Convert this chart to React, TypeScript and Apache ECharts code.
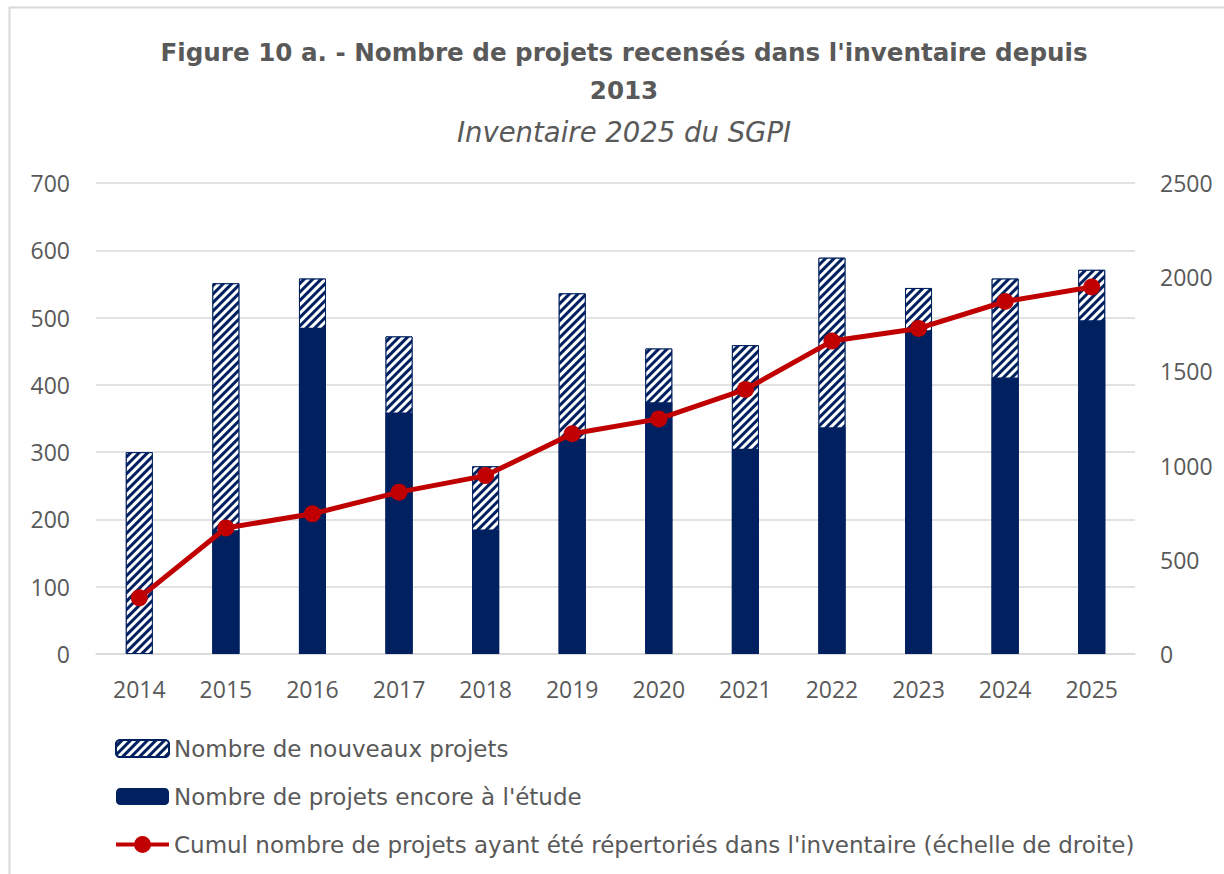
import React, { useEffect, useRef } from "react";
import * as echarts from "echarts";

const years = ["2014", "2015", "2016", "2017", "2018", "2019", "2020", "2021", "2022", "2023", "2024", "2025"];
const nouveauxProjets = [300, 551, 558, 472, 279, 536, 454, 459, 589, 544, 558, 571];
const encoreEtude = [0, 184, 485, 359, 185, 320, 374, 305, 337, 481, 411, 496];
const cumul = [298, 669, 744, 859, 947, 1169, 1248, 1404, 1661, 1728, 1871, 1948];

const NAVY = "#002060";
const RED = "#C00000";
const GRAY = "#595959";
const FONT = "'Open Sans', sans-serif";
const FONT2 = "'DejaVu Sans', sans-serif";

const LINE_ICON =
  "path://M0,6.5 L18.4,6.5 L18.4,10.5 L0,10.5 Z M34.6,6.5 L53,6.5 L53,10.5 L34.6,10.5 Z M18,8.5 A8.5,8.5 0 1,1 35,8.5 A8.5,8.5 0 1,1 18,8.5 Z";

export default function App() {
  const ref = useRef<HTMLDivElement>(null);
  useEffect(() => {
    const chart = echarts.init(ref.current!, null, { renderer: "svg" });
    chart.setOption({
      animation: false,
      backgroundColor: "#fff",
      textStyle: { fontFamily: FONT },
      graphic: [
        {
          type: "rect",
          shape: { x: 9.5, y: 7.5, width: 1300, height: 1000 },
          style: { fill: "none", stroke: "#d9d9d9", lineWidth: 2 },
          silent: true,
        },
        {
          type: "text",
          x: 624,
          y: 52,
          style: {
            text: "Figure 10 a. - Nombre de projets recensés dans l'inventaire depuis",
            font: `bold 24.6px ${FONT2}`,
            fill: GRAY,
            align: "center",
            verticalAlign: "middle",
          },
        },
        {
          type: "text",
          x: 624,
          y: 90,
          style: { text: "2013", font: `bold 24.6px ${FONT2}`, fill: GRAY, align: "center", verticalAlign: "middle" },
        },
        {
          type: "text",
          x: 624,
          y: 132,
          style: {
            text: "Inventaire 2025 du SGPI",
            font: `oblique 27.5px ${FONT2}`,
            fill: GRAY,
            align: "center",
            verticalAlign: "middle",
          },
        },
      ],
      grid: { left: 96, right: 89, top: 183, bottom: 220, containLabel: false },
      legend: {
        orient: "vertical",
        left: 115,
        top: 737,
        padding: 0,
        itemWidth: 53,
        itemHeight: 17,
        itemGap: 25,
        textStyle: { fontSize: 23, color: GRAY, fontFamily: FONT2 },
        data: [
          { name: "Nombre de nouveaux projets" },
          { name: "Nombre de projets encore à l'étude" },
          {
            name: "Cumul nombre de projets ayant été répertoriés dans l'inventaire (échelle de droite)",
            icon: LINE_ICON,
            itemStyle: { color: RED },
          },
        ],
      },
      xAxis: {
        type: "category",
        data: years,
        axisLine: { show: true, lineStyle: { color: "#d9d9d9", width: 1.5 } },
        axisTick: { show: false },
        axisLabel: { fontSize: 23, color: GRAY, margin: 23, fontFamily: FONT },
      },
      yAxis: [
        {
          type: "value",
          min: 0,
          max: 700,
          interval: 100,
          axisLine: { show: false },
          axisTick: { show: false },
          axisLabel: { fontSize: 23, color: GRAY, margin: 26, fontFamily: FONT },
          splitLine: { lineStyle: { color: "#d9d9d9", width: 1.5 } },
        },
        {
          type: "value",
          min: 0,
          max: 2500,
          interval: 500,
          axisLine: { show: false },
          axisTick: { show: false },
          axisLabel: {
            fontSize: 23,
            color: GRAY,
            margin: 25,
            fontFamily: FONT,
            formatter: (v: number) => String(v),
          },
          splitLine: { show: false },
        },
      ],
      series: [
        {
          name: "Nombre de nouveaux projets",
          type: "bar",
          data: nouveauxProjets,
          barWidth: 27,
          barGap: "-100%",
          itemStyle: {
            color: NAVY,
            borderColor: NAVY,
            borderWidth: 1,
            decal: {
              symbol: "rect",
              color: "#ffffff",
              dashArrayX: [1, 0],
              dashArrayY: [2.4, 2.4],
              rotation: -Math.PI / 4,
            },
          },
        },
        {
          name: "Nombre de projets encore à l'étude",
          type: "bar",
          data: encoreEtude,
          barWidth: 27,
          barGap: "-100%",
          itemStyle: { color: NAVY },
        },
        {
          name: "Cumul nombre de projets ayant été répertoriés dans l'inventaire (échelle de droite)",
          type: "line",
          yAxisIndex: 1,
          data: cumul,
          symbol: "circle",
          symbolSize: 17,
          z: 5,
          lineStyle: { color: RED, width: 5 },
          itemStyle: { color: RED },
        },
      ],
    });
    return () => chart.dispose();
  }, []);
  return (
    <div
      ref={ref}
      style={{ position: "fixed", left: 0, top: 0, width: 1224, height: 874 }}
    />
  );
}
